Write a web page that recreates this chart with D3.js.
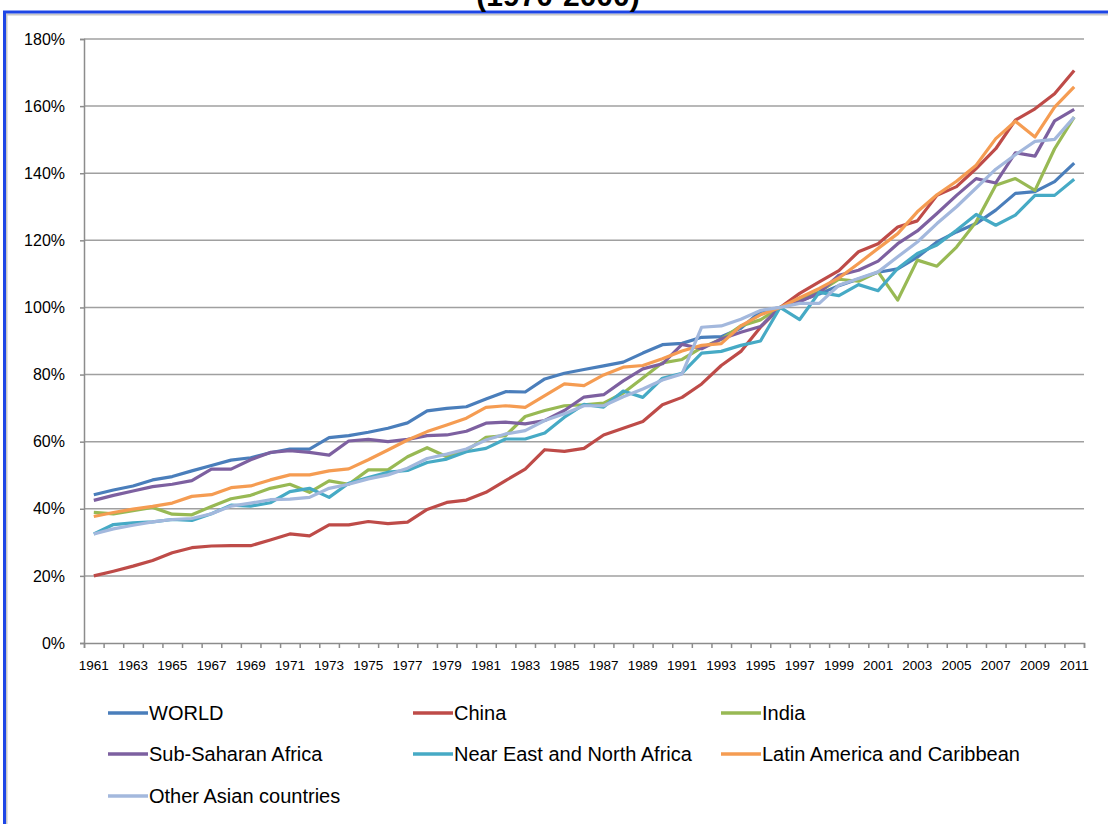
<!DOCTYPE html>
<html>
<head>
<meta charset="utf-8">
<script src="https://cdn.jsdelivr.net/npm/d3@7"></script>
<style>
  body { margin: 0; background: white; }
  svg { display: block; }
  text { font-family: "Liberation Sans", Arial, sans-serif; fill: #000; }
</style>
</head>
<body>
<div id="visualization"></div>
<script>
// data, index in % (1996 = 100)
let years = d3.range(1961, 2012);

let world = [44.2, 45.6, 46.8, 48.6, 49.6, 51.3, 52.9, 54.5, 55.2, 56.7, 57.8, 57.8, 61.2, 61.8, 62.8, 64, 65.6,
  69.2, 69.9, 70.4, 72.7, 74.9, 74.8, 78.7, 80.4, 81.5, 82.6, 83.7, 86.4, 88.9, 89.3, 91.1, 91.3, 93.8, 98.8,
  100, 102, 104, 106.5, 108.5, 110.5, 111.5, 115, 119.5, 122.5, 125, 129, 134, 134.5, 137.5, 143];
let china = [20, 21.4, 22.9, 24.6, 26.9, 28.4, 28.9, 29, 29, 30.7, 32.5, 31.9, 35.2, 35.2, 36.2, 35.6, 36,
  39.8, 41.9, 42.6, 44.9, 48.4, 51.8, 57.6, 57.1, 58, 62, 64, 66, 71, 73.2, 77.2, 82.7, 86.9, 94.1,
  100, 104.2, 107.6, 111, 116.6, 119, 124, 125.8, 133.4, 136, 141.4, 147.3, 155.8, 159.2, 163.7, 170.6];
let india = [38.9, 38.5, 39.4, 40.4, 38.4, 38.2, 40.7, 43, 44, 46.1, 47.3, 44.9, 48.3, 47.3, 51.6, 51.6, 55.5,
  58.2, 55.5, 57.3, 61.3, 61.8, 67.5, 69.3, 70.7, 71, 71.5, 74.5, 79, 83.5, 84.5, 88, 90.5, 94.5, 96.3,
  100, 102.2, 104.7, 108.4, 107.8, 110.6, 102.2, 114.1, 112.3, 118, 125.5, 136.4, 138.4, 134.9, 147.3, 156.7];
let subSaharan = [42.5, 44, 45.3, 46.6, 47.3, 48.4, 51.8, 51.8, 54.6, 56.8, 57.3, 56.8, 56, 60.2, 60.7, 60, 60.7,
  61.8, 62, 63.1, 65.5, 65.8, 65.3, 66.3, 69.3, 73.3, 74, 78.1, 81.7, 83.2, 89, 87.7, 90.6, 92.6, 94.3,
  100, 101.7, 104.4, 109.6, 111.1, 113.8, 119, 122.8, 128, 133.4, 138.4, 137.1, 146.1, 145.1, 155.6, 159];
let nearEast = [32.5, 35.3, 35.8, 36.1, 36.8, 36.5, 38.5, 41.1, 40.8, 41.8, 45.1, 46.1, 43.4, 47.6, 49.3, 50.9, 51.4,
  53.8, 54.8, 57, 58, 60.8, 60.8, 62.6, 67.3, 71.1, 70.3, 75.1, 73.2, 78.9, 80.4, 86.4, 86.9, 88.7, 90,
  100, 96.4, 104.5, 103.5, 106.8, 105, 111.6, 116.1, 118.6, 123, 127.7, 124.5, 127.5, 133.4, 133.4, 138.2];
let latinAmerica = [37.7, 38.9, 39.9, 40.7, 41.7, 43.7, 44.2, 46.3, 46.8, 48.6, 50.1, 50.1, 51.3, 51.9, 54.6, 57.5, 60.5,
  63, 65, 67, 70.2, 70.7, 70.2, 73.7, 77.2, 76.7, 79.9, 82.2, 82.7, 84.7, 87, 88.7, 89.2, 94.5, 97.8,
  100, 102.9, 105.7, 108.8, 113.1, 117.6, 122, 128.5, 133.6, 137.6, 142.4, 150.3, 155.5, 150.8, 159.7, 165.7];
let otherAsian = [32.5, 34, 35.1, 36.1, 36.8, 37.1, 38.5, 40.8, 41.7, 42.7, 42.9, 43.4, 46.1, 47.3, 48.9, 50.1, 52.1,
  55, 56.3, 57.8, 60.5, 62.3, 63.3, 66.3, 68.3, 70.7, 70.7, 73.4, 75.7, 78.4, 80.2, 94.1, 94.5, 96.5, 99.1,
  100, 101.2, 101.2, 106.6, 108.6, 110.6, 115.1, 119.5, 125, 130, 135.6, 141.2, 145.5, 149.5, 150.1, 156.7];

let seriesNames = ["WORLD", "China", "India", "Sub-Saharan Africa", "Near East and North Africa",
  "Latin America and Caribbean", "Other Asian countries"];
let seriesValues = [world, china, india, subSaharan, nearEast, latinAmerica, otherAsian];
let seriesColors = ["#4a7ebb", "#be4b48", "#98b954", "#7d60a0", "#46aac5", "#f59c52", "#a3b8dd"];

let yTicks = d3.range(0, 181, 20);
let xLabelYears = years.filter(function(d){ return (d - 1961) % 2 == 0; });

let w = 1108, h = 824;
let plotLeft = 84, plotRight = 1084, plotTop = 39, plotBottom = 643;

let viz = d3.select("#visualization")
  .append("svg")
    .attr("width", w)
    .attr("height", h)
;

// blue frame, mostly running off the page
viz.append("rect")
    .attr("x", 6.5).attr("y", 14.5)
    .attr("width", w + 20).attr("height", h + 20)
    .attr("fill", "none")
    .attr("stroke", "#c8c8c8")
    .attr("stroke-width", 2)
;
viz.append("rect")
    .attr("x", 4.5).attr("y", 12)
    .attr("width", w + 20).attr("height", h + 20)
    .attr("fill", "none")
    .attr("stroke", "#1e46e6")
    .attr("stroke-width", 3)
;

// title, only its lower edge shows at the top of the picture
viz.append("text")
    .text("(1970-2000)")
    .attr("x", 558)
    .attr("y", 6)
    .attr("text-anchor", "middle")
    .style("font-size", "30px")
    .style("font-weight", "bold")
;

let xScale = d3.scaleBand().domain(years).range([plotLeft, plotRight]);
let xEdges = d3.scaleLinear().domain([1960.5, 2011.5]).range([plotLeft, plotRight]);
let yScale = d3.scaleLinear().domain([0, 180]).range([plotBottom, plotTop]);

// gridlines
viz.append("g")
    .attr("class", "grid")
  .selectAll("line")
  .data(yTicks.filter(function(d){ return d > 0; }))
  .enter()
  .append("line")
    .attr("x1", plotLeft)
    .attr("x2", plotRight)
    .attr("y1", function(d){ return yScale(d); })
    .attr("y2", function(d){ return yScale(d); })
    .attr("stroke", "#a0a0a0")
    .attr("stroke-width", 1.5)
;

// y axis
let yAxis = d3.axisLeft(yScale)
  .tickValues(yTicks)
  .tickSize(4)
  .tickPadding(15)
  .tickFormat(function(d){ return d + "%"; });
let yAxisGroup = viz.append("g")
    .attr("class", "yaxisgroup")
    .attr("transform", "translate(" + plotLeft + ",0)")
    .call(yAxis)
;
yAxisGroup.selectAll("text").style("font-size", "16px");

// x axis: tick marks between the categories
let xTickAxis = d3.axisBottom(xEdges)
  .tickValues(d3.range(1960.5, 2012, 1))
  .tickSize(5)
  .tickFormat("");
let xTickGroup = viz.append("g")
    .attr("transform", "translate(0," + plotBottom + ")")
    .call(xTickAxis)
;
// x axis labels every two years
let xAxis = d3.axisBottom(xScale)
  .tickValues(xLabelYears)
  .tickSize(0)
  .tickPadding(17);
let xAxisGroup = viz.append("g")
    .attr("class", "xaxisgroup")
    .attr("transform", "translate(0," + plotBottom + ")")
    .call(xAxis)
;
xAxisGroup.select(".domain").remove();
xAxisGroup.selectAll("text").style("font-size", "13.5px");

viz.selectAll(".domain, .tick line").attr("stroke", "#8c8c8c").attr("stroke-width", 1.5);
viz.selectAll(".tick text").attr("fill", "#000");

// lines
let lineMaker = d3.line()
  .x(function(d, i){ return xScale(years[i]) + xScale.bandwidth() / 2; })
  .y(function(d){ return yScale(d); });

viz.append("g")
    .attr("class", "graphgroup")
  .selectAll("path")
  .data(seriesValues)
  .enter()
  .append("path")
    .attr("d", lineMaker)
    .attr("fill", "none")
    .attr("stroke", function(d, i){ return seriesColors[i]; })
    .attr("stroke-width", 3.2)
    .attr("stroke-linejoin", "round")
;

// legend, three per row
let legendX = [108, 413, 721];
let legendY = [713, 754, 796];
let legend = viz.append("g")
    .attr("class", "legend")
  .selectAll("g")
  .data(seriesNames)
  .enter()
  .append("g")
    .attr("transform", function(d, i){
      return "translate(" + legendX[i % 3] + "," + legendY[Math.floor(i / 3)] + ")";
    })
;
legend.append("line")
    .attr("x1", 0)
    .attr("x2", 40)
    .attr("stroke", function(d, i){ return seriesColors[i]; })
    .attr("stroke-width", 3.5)
;
legend.append("text")
    .text(function(d){ return d; })
    .attr("x", 41)
    .attr("dy", "0.35em")
    .style("font-size", "20px")
;
</script>
</body>
</html>
